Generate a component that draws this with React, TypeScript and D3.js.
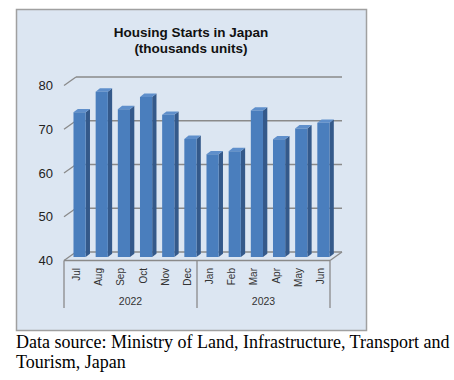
import React from "react";
import * as d3 from "d3";

const months = ["Jul", "Aug", "Sep", "Oct", "Nov", "Dec", "Jan", "Feb", "Mar", "Apr", "May", "Jun"];
const years = ["2022", "2023"];
const monthsPerYear = [6, 6];
const starts = [73.1, 77.8, 73.8, 76.6, 72.5, 67.0, 63.5, 64.2, 73.5, 66.9, 69.4, 70.7];
const yTicks = [40, 50, 60, 70, 80];
const titleLines = ["Housing Starts in Japan", "(thousands units)"];
const captionLines = ["Data source: Ministry of Land, Infrastructure, Transport and", "Tourism, Japan"];

const W = 454;
const H = 380;
const DX = 12; // wall depth
const DY = -8.5;
const BDX = 4.5; // bar plane offset
const BDY = -3.5;
const CDX = 4.3; // bar depth
const CDY = -3.3;

export default function App() {
  const x0 = 64;
  const x1 = 330;
  const band = d3.scaleBand<string>().domain(months).range([x0, x1]).paddingInner(0.45).paddingOuter(0.225);
  const step = band.step();
  const yBack = d3.scaleLinear().domain([40, 80]).range([252, 77]);
  const yFront = (v: number) => yBack(v) - DY;
  const yBar = (v: number) => yFront(v) + BDY;
  const floorY = yFront(40);
  const grid = "#8a8a8a";
  const font = "Arial, 'Liberation Sans', sans-serif";

  let acc = 0;
  const groups = years.map((yr, i) => {
    const startIdx = acc;
    acc += monthsPerYear[i];
    return { yr, start: x0 + startIdx * step, end: x0 + acc * step };
  });

  return (
    <svg width={W} height={H} style={{ position: "absolute", left: 0, top: 0 }}>
      <rect x={16.5} y={9.5} width={350} height={321} fill="#dce6f2" stroke="#a0a0a0" strokeWidth={1.5} />
      {titleLines.map((t, i) => (
        <text key={t} x={191} y={36.5 + i * 16} textAnchor="middle" fontFamily={font} fontWeight="bold" fontSize={13.5} fill="#111">
          {t}
        </text>
      ))}
      {/* gridlines */}
      {yTicks.map((v) => (
        <g key={v}>
          <line x1={x0} y1={yFront(v)} x2={x0 + DX} y2={yBack(v)} stroke={grid} strokeWidth={1.3} />
          <line x1={x0 + DX} y1={yBack(v)} x2={x1 + DX} y2={yBack(v)} stroke={grid} strokeWidth={1.3} />
          <text x={53} y={yFront(v)} dy="0.36em" textAnchor="end" fontFamily={font} fontSize={13} fill="#222">
            {v}
          </text>
        </g>
      ))}
      {/* floor front and right edge */}
      <line x1={x0} y1={floorY} x2={x1} y2={floorY} stroke={grid} strokeWidth={1.3} />
      <line x1={x1} y1={floorY} x2={x1 + DX} y2={yBack(40)} stroke={grid} strokeWidth={1.3} />
      {/* bars */}
      {months.map((m, i) => {
        const bx = (band(m) as number) + BDX;
        const bw = band.bandwidth();
        const top = yBar(starts[i]);
        const bot = yBar(40);
        const front = `M${bx},${top}L${bx + bw},${top}L${bx + bw},${bot}L${bx},${bot}Z`;
        const side = `M${bx + bw},${top}L${bx + bw + CDX},${top + CDY}L${bx + bw + CDX},${bot + CDY}L${bx + bw},${bot}Z`;
        const cap = `M${bx},${top}L${bx + CDX},${top + CDY}L${bx + bw + CDX},${top + CDY}L${bx + bw},${top}Z`;
        return (
          <g key={m}>
            <path d={side} fill="#34598a" />
            <path d={cap} fill="#5f8fcb" />
            <path d={front} fill="#4a7ebd" />
          </g>
        );
      })}
      {/* category axis */}
      {[x0, ...groups.map((g) => g.end)].map((x, i) => (
        <line key={i} x1={x} y1={floorY} x2={x} y2={308} stroke={grid} strokeWidth={1.3} />
      ))}
      {months.map((m) => {
        const cx = (band(m) as number) + band.bandwidth() / 2 + 1.5;
        return (
          <text
            key={m}
            transform={`translate(${cx},268) rotate(-90)`}
            textAnchor="end"
            dy="0.35em"
            fontFamily={font}
            fontSize={10}
            fill="#333"
          >
            {m}
          </text>
        );
      })}
      {groups.map((g) => (
        <text key={g.yr} x={(g.start + g.end) / 2} y={305} textAnchor="middle" fontFamily={font} fontSize={10.5} fill="#333">
          {g.yr}
        </text>
      ))}
      {captionLines.map((t, i) => (
        <text key={t} x={16} y={348 + i * 19.5} fontFamily="'Liberation Serif', 'Times New Roman', serif" fontSize={18} fill="#000">
          {t}
        </text>
      ))}
    </svg>
  );
}
